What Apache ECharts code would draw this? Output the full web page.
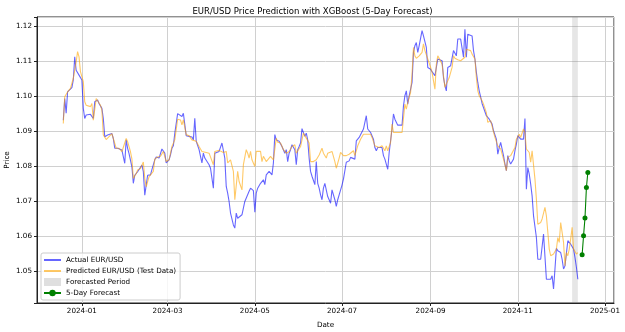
<!DOCTYPE html>
<html lang="en">
<head>
<meta charset="UTF-8">
<title>EUR/USD Price Prediction with XGBoost</title>
<script src="https://cdn.jsdelivr.net/npm/echarts@6/dist/echarts.min.js"></script>
<style>html,body{margin:0;padding:0;background:#fff;}</style>
</head>
<body>
<div id="chart" style="width:625px;height:332px;"></div>
<script>
// [day, price], day = days counted from 2024-01-01
const actual = [
  [-13,1.093],[-12,1.0992],[-11,1.095],[-10,1.1011],[-9,1.1016],[-7,1.1023],[-6,1.1045],[-5,1.1111],[-4,1.1073],[-2,1.1059],
  [0,1.1045],[1,1.0964],[2,1.0935],[3,1.0945],[4,1.095],[6,1.0947],[7,1.095],[8,1.0935],[9,1.0983],[11,1.0988],
  [12,1.0978],[14,1.0964],[15,1.0935],[16,1.0883],[17,1.0878],[18,1.0888],[19,1.0886],[21,1.0892],[22,1.0878],[23,1.085],
  [25,1.085],[26,1.0847],[28,1.0845],[29,1.084],[30,1.0807],[31,1.0874],[32,1.085],[33,1.0835],[35,1.0797],[36,1.075],
  [37,1.0773],[39,1.0783],[40,1.0788],[42,1.0802],[43,1.0783],[44,1.0716],[46,1.0773],[47,1.0778],[48,1.0774],[49,1.0789],
  [51,1.0817],[52,1.0825],[54,1.0822],[55,1.0819],[56,1.0848],[58,1.0836],[59,1.0808],[61,1.0817],[62,1.0831],[63,1.085],
  [64,1.0857],[65,1.0893],[67,1.0949],[68,1.0946],[70,1.0941],[71,1.095],[72,1.0955],[73,1.0886],[75,1.0884],[77,1.0882],
  [78,1.0874],[79,1.0936],[80,1.087],[82,1.0846],[83,1.0827],[84,1.0808],[85,1.0836],[86,1.0822],[87,1.0817],[89,1.0803],
  [90,1.0793],[92,1.0736],[93,1.0836],[94,1.0841],[96,1.0841],[97,1.0836],[98,1.0865],[99,1.086],[100,1.0822],[101,1.0741],
  [102,1.0722],[103,1.0698],[104,1.0665],[106,1.0631],[107,1.0622],[108,1.0665],[109,1.065],[110,1.0655],[112,1.066],[113,1.0665],
  [114,1.0698],[115,1.0703],[117,1.0727],[118,1.0736],[120,1.0729],[121,1.0667],[122,1.0722],[123,1.0736],[125,1.075],[127,1.076],
  [128,1.0746],[129,1.0774],[131,1.0784],[133,1.0774],[134,1.0808],[135,1.0889],[136,1.0874],[138,1.087],[139,1.0874],[140,1.0855],
  [142,1.0836],[143,1.0846],[144,1.0812],[145,1.0836],[146,1.0846],[147,1.086],[149,1.0846],[150,1.0803],[151,1.0846],[152,1.0855],
  [153,1.0865],[154,1.0906],[156,1.0884],[157,1.0893],[158,1.0874],[159,1.0822],[160,1.0784],[161,1.077],[163,1.0746],[164,1.0812],
  [165,1.075],[166,1.0736],[167,1.0717],[168,1.0703],[169,1.0736],[170,1.075],[172,1.0712],[173,1.0703],[174,1.0693],[175,1.0731],
  [176,1.0736],[177,1.0703],[178,1.0684],[179,1.0703],[180,1.0717],[182,1.0745],[183,1.0762],[185,1.081],[187,1.0814],[188,1.0824],
  [189,1.0829],[191,1.0819],[192,1.0871],[194,1.0881],[195,1.0886],[197,1.0905],[198,1.0905],[199,1.0943],[200,1.0905],[201,1.0902],
  [202,1.0895],[204,1.0876],[205,1.0852],[206,1.0843],[207,1.0852],[208,1.0854],[210,1.0852],[211,1.0829],[212,1.0819],[213,1.0824],
  [214,1.079],[215,1.0838],[217,1.0905],[218,1.0948],[219,1.0933],[220,1.0929],[221,1.0916],[222,1.0916],[224,1.0916],[225,1.0971],
  [226,1.1],[227,1.1014],[228,1.0976],[229,1.1],[231,1.1038],[232,1.1124],[233,1.1143],[234,1.1152],[235,1.1124],[236,1.1143],
  [238,1.1186],[239,1.1171],[240,1.1176],[241,1.1138],[242,1.1081],[244,1.1076],[245,1.1069],[247,1.1057],[248,1.1081],[249,1.1105],
  [250,1.11],[252,1.11],[253,1.1052],[254,1.1029],[255,1.1014],[256,1.1081],[258,1.1086],[259,1.109],[260,1.1129],[261,1.1124],
  [262,1.1114],[263,1.1162],[265,1.1162],[266,1.116],[267,1.111],[268,1.119],[269,1.111],[270,1.1176],[271,1.1176],[273,1.1171],
  [274,1.1129],[275,1.1105],[276,1.1067],[277,1.1038],[278,1.1014],[279,1.0997],[280,1.0978],[281,1.0978],[283,1.0943],[284,1.0938],
  [285,1.0933],[286,1.0929],[287,1.0919],[288,1.09],[290,1.0876],[291,1.0833],[292,1.0852],[293,1.0867],[295,1.0829],[296,1.0805],
  [297,1.0786],[298,1.0829],[299,1.0814],[300,1.0805],[302,1.0819],[303,1.0843],[304,1.0862],[305,1.0886],[306,1.0881],[307,1.0876],
  [309,1.0876],[310,1.0935],[311,1.0733],[312,1.0795],[313,1.0776],[314,1.0748],[315,1.0714],[316,1.0657],[318,1.0595],[319,1.0533],
  [321,1.0533],[322,1.0535],[323,1.0605],[324,1.06],[325,1.0476],[326,1.0481],[328,1.0476],[329,1.0486],[330,1.0448],[331,1.0505],
  [332,1.0564],[333,1.0557],[335,1.0552],[336,1.0533],[337,1.0505],[338,1.0514],[339,1.0519],[340,1.0586],[342,1.0576],[343,1.0571],
  [344,1.0562],[345,1.0538],[346,1.051],[347,1.0476]
];

const predicted = [
  [-13,1.0921],[-12,1.0997],[-11,1.0992],[-10,1.1011],[-8,1.1021],[-6,1.105],[-4,1.1097],[-3,1.1126],[-2,1.1111],[-1,1.1069],
  [1,1.104],[2,1.0983],[3,1.0973],[4,1.0978],[6,1.0969],[7,1.0978],[8,1.093],[10,1.0992],[11,1.0988],[13,1.0973],
  [14,1.0959],[15,1.0888],[17,1.0875],[19,1.0883],[21,1.0892],[22,1.0878],[24,1.085],[26,1.085],[28,1.084],[29,1.0835],
  [31,1.0878],[32,1.0869],[34,1.084],[35,1.082],[36,1.0764],[38,1.0778],[39,1.0788],[41,1.0792],[43,1.0811],[44,1.0764],
  [45,1.074],[47,1.0769],[48,1.077],[50,1.0784],[51,1.0819],[53,1.0825],[55,1.0827],[57,1.0841],[59,1.0812],[61,1.0817],
  [63,1.0855],[65,1.0874],[67,1.0933],[69,1.0931],[70,1.0917],[71,1.0931],[73,1.0889],[75,1.0886],[77,1.0874],[80,1.087],
  [82,1.0855],[84,1.0841],[87,1.0838],[89,1.0836],[92,1.0803],[93,1.0841],[96,1.0844],[99,1.0838],[101,1.0841],[102,1.0808],
  [104,1.0817],[106,1.0784],[107,1.0703],[109,1.0784],[110,1.0755],[112,1.0731],[113,1.0803],[115,1.0846],[116,1.0836],[117,1.0822],
  [118,1.0841],[119,1.0817],[121,1.0798],[122,1.0841],[125,1.0841],[126,1.0812],[127,1.0827],[129,1.0812],[130,1.0817],[132,1.0827],
  [134,1.0817],[136,1.0879],[137,1.0867],[139,1.0865],[141,1.0846],[143,1.0836],[145,1.0841],[147,1.0855],[149,1.086],[150,1.0836],
  [153,1.0855],[155,1.0893],[157,1.0879],[159,1.0865],[160,1.0812],[162,1.0812],[164,1.0817],[166,1.0831],[168,1.085],[169,1.0836],
  [171,1.0822],[172,1.0836],[175,1.0841],[177,1.0812],[178,1.0793],[180,1.0822],[181,1.0838],[183,1.0829],[185,1.0829],[187,1.0833],
  [188,1.0838],[190,1.0843],[191,1.0829],[193,1.0857],[195,1.0876],[197,1.089],[198,1.0895],[200,1.089],[202,1.089],[203,1.0881],
  [205,1.0857],[206,1.0852],[208,1.0852],[210,1.0857],[212,1.0843],[213,1.0857],[214,1.0843],[216,1.0867],[217,1.0919],[218,1.0895],
  [220,1.0895],[222,1.0895],[224,1.0895],[226,1.0976],[227,1.0962],[228,1.0981],[230,1.101],[231,1.1062],[232,1.1138],[233,1.1114],
  [234,1.1107],[236,1.1114],[238,1.1124],[239,1.1148],[240,1.1129],[242,1.1105],[244,1.1081],[245,1.1067],[247,1.1019],[248,1.109],
  [249,1.1114],[250,1.1107],[252,1.109],[253,1.1057],[254,1.1024],[255,1.1029],[257,1.1052],[259,1.1081],[260,1.1114],[261,1.1107],
  [263,1.1103],[265,1.11],[266,1.1105],[268,1.111],[269,1.1133],[270,1.1133],[272,1.1129],[273,1.1119],[275,1.1105],[276,1.1052],
  [277,1.1014],[278,1.1],[280,1.0986],[281,1.0976],[283,1.0952],[284,1.0924],[286,1.0929],[287,1.0924],[289,1.0881],[291,1.0857],
  [293,1.0848],[294,1.0852],[295,1.0819],[297,1.0786],[298,1.0824],[300,1.0829],[301,1.0824],[303,1.0852],[304,1.0876],[306,1.089],
  [307,1.0881],[309,1.0905],[310,1.0895],[311,1.0848],[312,1.0843],[313,1.0838],[314,1.081],[315,1.0843],[317,1.0762],[318,1.0705],
  [319,1.0633],[321,1.0638],[322,1.0648],[324,1.0681],[325,1.0657],[326,1.061],[327,1.0562],[328,1.0543],[330,1.0548],[331,1.0543],
  [332,1.0562],[333,1.0595],[334,1.0581],[335,1.0638],[337,1.0581],[338,1.0514],[339,1.0552],[340,1.0543],[341,1.0562],[342,1.0591],
  [343,1.0624],[344,1.0562],[346,1.0548],[347,1.0552]
];

const forecastDays = [350, 351, 352, 353, 354];
const forecastPrice = [1.0546, 1.06, 1.0651, 1.0738, 1.0781];
const forecastPeriod = [343, 347];

const DAY = 86400000;
function dayToTime(d) { return new Date(2024, 0, 1 + d).getTime(); }
function toPoints(rows) { return rows.map(r => [dayToTime(r[0]), r[1]]); }

const font = 'DejaVu Sans';
const chart = echarts.init(document.getElementById('chart'));

const option = {
  animation: false,
  title: {
    text: 'EUR/USD Price Prediction with XGBoost (5-Day Forecast)',
    left: 'center', top: 2,
    textStyle: { fontFamily: font, fontSize: 8.5, fontWeight: 'normal', color: '#000' }
  },
  grid: {
    left: 37, right: 11, top: 17, bottom: 29, outerBoundsMode: 'none',
    show: true, borderColor: '#222', borderWidth: 1
  },
  legend: {
    orient: 'vertical', left: 41, top: 253,
    padding: [3, 4, 3, 2], itemGap: 3, itemWidth: 17, itemHeight: 8,
    backgroundColor: 'rgba(255,255,255,0.8)', borderColor: '#ccc', borderWidth: 1, borderRadius: 2,
    textStyle: { fontFamily: font, fontSize: 7.2, color: '#000', lineHeight: 8 },
    data: [
      { name: 'Actual EUR/USD', itemStyle: { opacity: 0 } },
      { name: 'Predicted EUR/USD (Test Data)', itemStyle: { opacity: 0 } },
      { name: 'Forecasted Period', icon: 'rect', itemStyle: { color: 'rgba(128,128,128,0.25)' } },
      { name: '5-Day Forecast' }
    ]
  },
  xAxis: {
    type: 'time',
    min: dayToTime(0) - 31.4 * DAY,
    max: dayToTime(0) + 372.3 * DAY,
    minInterval: 60 * DAY, maxInterval: 66 * DAY,
    name: 'Date', nameLocation: 'middle', nameGap: 19, nameMoveOverlap: false,
    nameTextStyle: { fontFamily: font, fontSize: 7.2, color: '#000' },
    axisLine: { lineStyle: { color: '#222' } },
    axisTick: { length: 3, lineStyle: { color: '#222' } },
    splitLine: { show: true, lineStyle: { color: '#d0d0d0', width: 1 } },
    axisLabel: {
      fontFamily: font, fontSize: 7.2, color: '#000', margin: 5, hideOverlap: false,
      formatter: function (v) {
        const dt = new Date(v);
        if (dt.getDate() !== 1 || dt.getHours() !== 0) return '';
        return dt.getFullYear() + '-' + String(dt.getMonth() + 1).padStart(2, '0');
      }
    }
  },
  yAxis: {
    type: 'value',
    min: 1.0408, max: 1.1225,
    minInterval: 0.01, maxInterval: 0.01,
    name: 'Price', nameLocation: 'middle', nameGap: 26, nameMoveOverlap: false,
    nameTextStyle: { fontFamily: font, fontSize: 7.2, color: '#000' },
    axisLine: { show: true, lineStyle: { color: '#222' } },
    axisTick: { show: true, length: 3, lineStyle: { color: '#222' } },
    splitLine: { show: true, lineStyle: { color: '#d0d0d0', width: 1 } },
    axisLabel: {
      fontFamily: font, fontSize: 7.2, color: '#000', margin: 5,
      formatter: function (v) {
        if (Math.abs(v * 100 - Math.round(v * 100)) > 1e-6) return '';
        return v.toFixed(2);
      }
    }
  },
  series: [
    {
      name: 'Actual EUR/USD', type: 'line', symbol: 'none', showSymbol: false,
      data: toPoints(actual),
      lineStyle: { color: 'rgba(0,0,255,0.6)', width: 1.1 },
      itemStyle: { color: 'rgba(0,0,255,0.6)' }
    },
    {
      name: 'Predicted EUR/USD (Test Data)', type: 'line', symbol: 'none', showSymbol: false,
      data: toPoints(predicted),
      lineStyle: { color: 'rgba(255,165,0,0.6)', width: 1.1 },
      itemStyle: { color: 'rgba(255,165,0,0.6)' }
    },
    {
      name: 'Forecasted Period', type: 'line', data: [],
      itemStyle: { color: 'rgba(128,128,128,0.25)' },
      markArea: {
        silent: true,
        itemStyle: { color: 'rgba(128,128,128,0.2)' },
        data: [[{ xAxis: dayToTime(forecastPeriod[0]) }, { xAxis: dayToTime(forecastPeriod[1]) }]]
      }
    },
    {
      name: '5-Day Forecast', type: 'line', symbol: 'circle', symbolSize: 5,
      data: forecastDays.map((d, i) => [dayToTime(d), forecastPrice[i]]),
      lineStyle: { color: '#008000', width: 1.1 },
      itemStyle: { color: '#008000' }
    }
  ]
};

chart.setOption(option);
</script>
</body>
</html>
